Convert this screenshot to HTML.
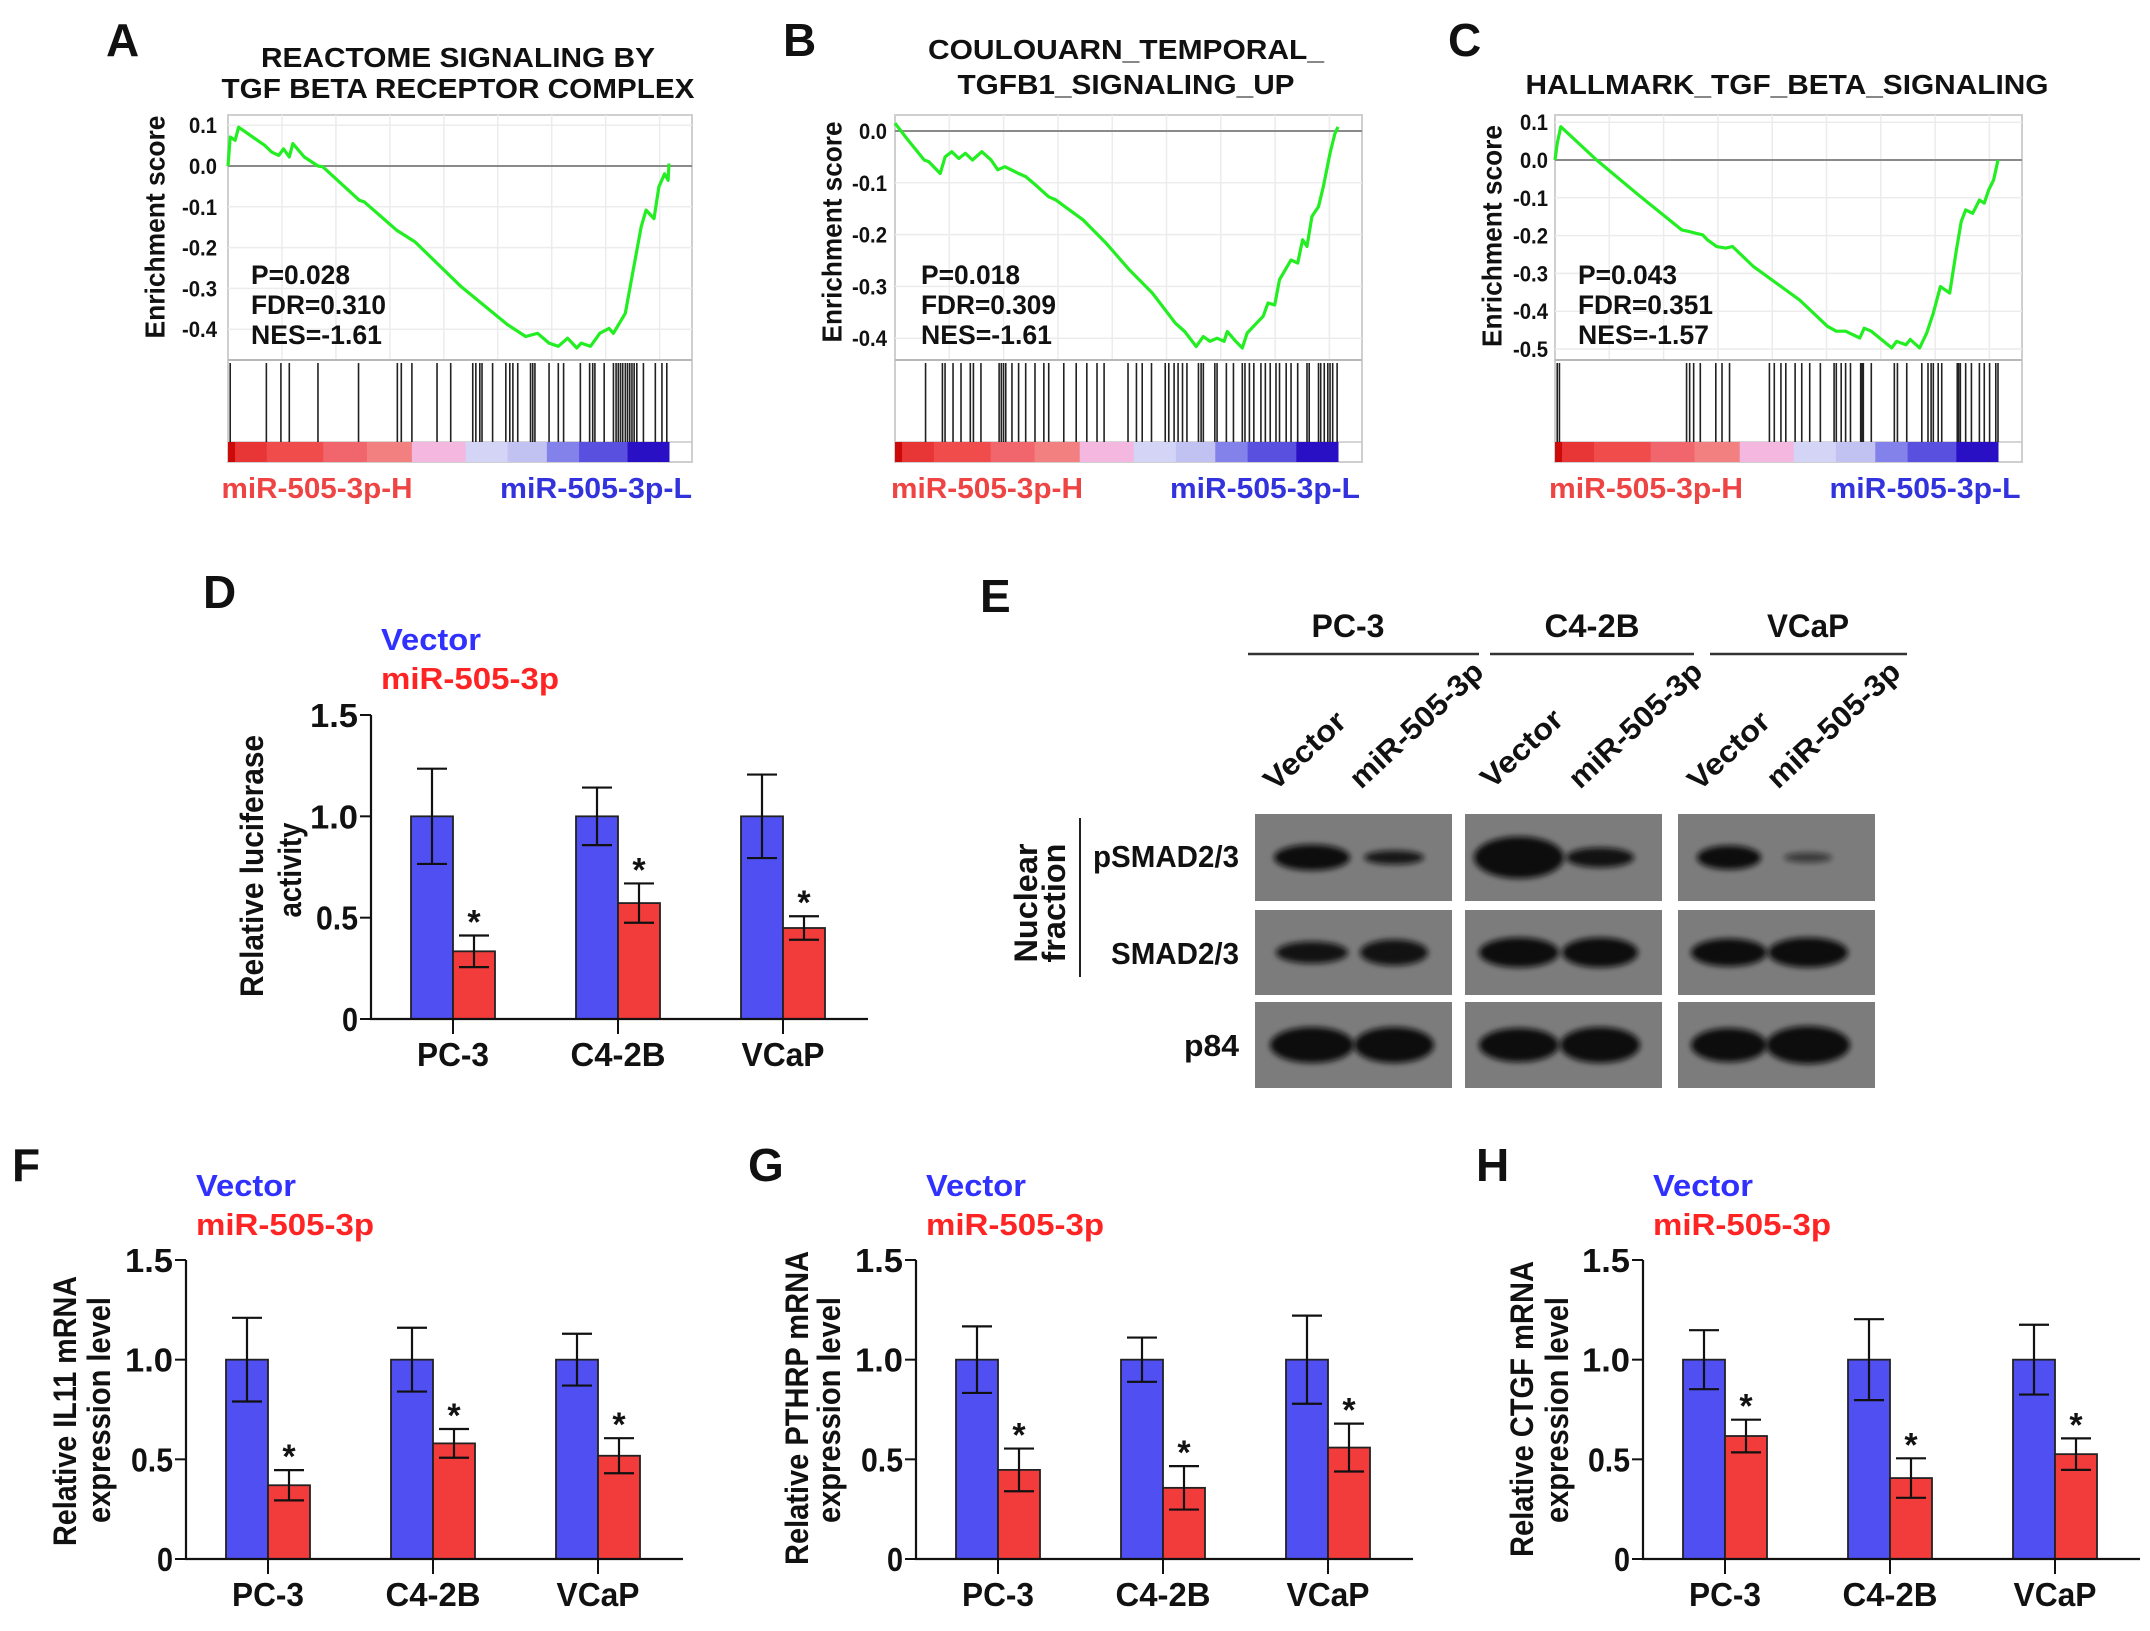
<!DOCTYPE html>
<html><head><meta charset="utf-8"><title>miR-505-3p TGF-beta figure</title>
<style>
html,body{margin:0;padding:0;background:#fff;}
svg{display:block;font-family:"Liberation Sans",Arial,sans-serif;font-weight:bold;}
</style></head>
<body>
<svg id="fig" xmlns="http://www.w3.org/2000/svg" width="2150" height="1631" viewBox="0 0 2150 1631">
<defs>
<filter id="blur" x="-50%" y="-50%" width="200%" height="200%"><feGaussianBlur stdDeviation="3"/></filter>
</defs>
<rect x="0" y="0" width="2150" height="1631" fill="#fff"/>
</svg>
<script>
// ===== GSEA data (rank fraction, enrichment score) =====
const esA_rank=[0,.005,.016,.024,.084,.099,.115,.126,.139,.147,.173,.204,.215,.298,.309,.382,.424,.529,.634,.675,.702,.728,.749,.770,.791,.801,.822,.843,.864,.874,.901,.916,.937,.948,.966,.977,.990,.998,1.0];
const esA_score=[0,.071,.063,.095,.05,.034,.026,.042,.022,.055,.022,0,-.002,-.084,-.088,-.157,-.186,-.296,-.389,-.418,-.41,-.434,-.442,-.422,-.446,-.434,-.442,-.41,-.398,-.41,-.361,-.271,-.149,-.108,-.129,-.051,-.019,-.035,.006];
const hitsA=[0.5,8.7,12.0,13.9,20.4,29.6,38.4,39.3,41.7,47.4,50.5,55.5,56.2,57.1,57.6,60.0,63.0,63.9,64.6,65.7,68.6,69.1,69.6,72.8,74.9,76.1,79.9,82.0,82.7,83.2,85.3,87.4,88.0,88.5,89.0,89.5,90.1,90.6,91.1,91.6,92.1,92.7,94.2,96.9,98.4,99.5];
const ticksA=[0.1,0.0,-0.1,-0.2,-0.3,-0.4];

const esB_rank=[0,.029,.066,.076,.102,.113,.128,.144,.159,.175,.196,.217,.232,.248,.279,.295,.321,.347,.363,.425,.477,.529,.581,.633,.654,.680,.696,.711,.727,.743,.750,.769,.784,.795,.816,.831,.842,.857,.868,.894,.909,.920,.930,.941,.956,.967,.982,.993,1.0];
const esB_score=[.015,-.017,-.056,-.059,-.082,-.050,-.040,-.053,-.043,-.056,-.040,-.056,-.075,-.069,-.082,-.088,-.107,-.127,-.133,-.172,-.217,-.268,-.313,-.371,-.387,-.416,-.397,-.406,-.400,-.406,-.387,-.406,-.419,-.390,-.371,-.358,-.332,-.336,-.287,-.249,-.255,-.210,-.223,-.165,-.146,-.107,-.043,-.005,.008];
const hitsB=[6.9,10.7,11.3,13.1,14.9,17.0,17.7,19.4,23.5,24.0,24.5,25.0,26.4,27.9,29.5,31.6,33.6,34.7,38.1,40.9,43.3,45.6,47.2,52.6,54.5,55.8,57.9,61.0,61.8,63.0,63.9,64.9,65.9,68.5,69.1,69.6,72.2,72.7,74.8,76.4,78.4,79.0,80.0,81.0,82.6,83.6,84.7,86.0,86.8,88.3,89.4,90.9,93.0,93.5,95.6,96.1,96.9,97.7,98.2,98.8,99.8];
const ticksB=[0.0,-0.1,-0.2,-0.3,-0.4];

const esC_rank=[0,.005,.013,.094,.188,.286,.302,.318,.333,.344,.365,.385,.401,.448,.552,.615,.635,.656,.688,.698,.714,.760,.771,.792,.802,.823,.839,.854,.870,.891,.906,.917,.927,.943,.958,.969,.979,.990,1.0];
const esC_score=[0,.044,.088,0,-.092,-.185,-.189,-.194,-.198,-.211,-.229,-.233,-.229,-.282,-.370,-.440,-.453,-.453,-.471,-.445,-.453,-.497,-.480,-.489,-.475,-.497,-.458,-.405,-.335,-.352,-.238,-.163,-.132,-.141,-.106,-.114,-.079,-.053,0];
const hitsC=[0.5,1.0,29.7,30.4,31.3,32.8,36.3,37.7,39.4,48.4,49.5,51.0,52.1,54.2,55.7,57.5,59.9,63.0,63.5,64.6,65.6,66.7,69.0,69.3,69.6,71.4,76.6,77.3,79.4,82.8,84.2,84.9,85.4,86.5,87.3,90.8,91.1,91.5,92.7,94.0,95.8,96.9,98.1,99.5,100];
const ticksC=[0.1,0.0,-0.1,-0.2,-0.3,-0.4,-0.5];

// ===== bar chart data =====
const cellLines=['PC-3','C4-2B','VCaP'];
const barTicks=[0,0.5,1.0,1.5];
const barTickLabels=['0','0.5','1.0','1.5'];
const lucVector=[1.0,1.0,1.0];
const lucVectorErr=[0.235,0.142,0.206];
const lucMir=[0.334,0.572,0.449];
const lucMirErr=[0.078,0.097,0.058];
const il11Vector=[1.0,1.0,1.0];
const il11VectorErr=[0.21,0.16,0.13];
const il11Mir=[0.37,0.58,0.518];
const il11MirErr=[0.076,0.072,0.088];
const pthrpVector=[1.0,1.0,1.0];
const pthrpVectorErr=[0.167,0.111,0.221];
const pthrpMir=[0.447,0.357,0.559];
const pthrpMirErr=[0.107,0.109,0.12];
const ctgfVector=[1.0,1.0,1.0];
const ctgfVectorErr=[0.148,0.203,0.175];
const ctgfMir=[0.617,0.406,0.526];
const ctgfMirErr=[0.082,0.099,0.079];

const NS='http://www.w3.org/2000/svg';
const svg=document.getElementById('fig');
function mk(tag,attrs,name,parent){
  const el=document.createElementNS(NS,tag);
  for(const k in attrs) el.setAttribute(k,attrs[k]);
  
  
  (parent||svg).appendChild(el);
  return el;
}
function txt(x,y,s,size,name,o){
  o=o||{};
  const a={x:x,y:y,'font-size':size,fill:o.fill||'#111','text-anchor':o.anchor||'start'};
  if(o.len){a.textLength=o.len;a.lengthAdjust='spacingAndGlyphs';}
  if(o.transform)a.transform=o.transform;
  if(o.baseline)a['dominant-baseline']=o.baseline;
  const t=mk('text',a,name,o.parent);
  t.textContent=s;
  return t;
}

// ===== GSEA panels =====
const cbColors=['#cc0a0a','#e83636','#f04c4c','#f0666c','#f28080','#f4b8e0','#d4d4f6','#c2c2f2','#8282ea','#5a50e0','#2a10c4'];
const cbStops=[0,1.6,8.8,21.6,31.5,41.7,53.9,63.4,72.3,79.6,90.6,100];
function gsea(p){
  const g=mk('g',{},p.id);
  const L=p.left,R=p.right,E=p.end,top=115,esB=360,cbT=442,bot=462;
  const xs=f=>L+f*(E-L);
  const ys=v=>p.zero-v*10*p.per;
  mk('rect',{x:L,y:top,width:R-L,height:bot-top,fill:'#fff',stroke:'#cfcfcf','stroke-width':2},'plot-frame',g);
  for(let i=1;i<9;i++){
    mk('line',{x1:L+i*(R-L)/8.6,x2:L+i*(R-L)/8.6,y1:top,y2:esB,stroke:'#ececec','stroke-width':1.5},'grid-line',g);
  }
  p.ticks.forEach(t=>{
    mk('line',{x1:L,x2:R,y1:ys(t),y2:ys(t),stroke:t===0?'#8a8a8a':'#ececec','stroke-width':t===0?2:1.5},'h-grid-line',g);
    txt(p.tickRight,ys(t)+8,t.toFixed(1),22,'y-tick-label',{anchor:'end',len:t<0?35:28,parent:g});
  });
  mk('line',{x1:L,x2:R,y1:esB,y2:esB,stroke:'#b8b8b8','stroke-width':2},'es-divider',g);
  mk('line',{x1:L,x2:R,y1:cbT,y2:cbT,stroke:'#c8c8c8','stroke-width':1.5},'hits-divider',g);
  p.hits.forEach(h=>{
    mk('line',{x1:xs(h/100),x2:xs(h/100),y1:esB+3,y2:cbT,stroke:'#222','stroke-width':1.6},'hit-line',g);
  });
  for(let i=0;i<cbColors.length;i++){
    mk('rect',{x:xs(cbStops[i]/100),y:cbT,width:xs(cbStops[i+1]/100)-xs(cbStops[i]/100)+0.5,height:bot-cbT,fill:cbColors[i]},'colorbar-segment',g);
  }
  let d='';
  p.rank.forEach((r,i)=>{d+=(i?'L':'M')+xs(r).toFixed(1)+','+ys(p.score[i]).toFixed(1);});
  mk('path',{d:d,fill:'none',stroke:'#22ee22','stroke-width':3.2,'stroke-linejoin':'round'},'enrichment-curve',g);
  txt(p.ytx,p.yty,'Enrichment score',28,'y-axis-title',{anchor:'middle',len:p.ylen,transform:'rotate(-90 '+p.ytx+' '+p.yty+')',baseline:'central',parent:g});
  txt(p.statX,284,p.stats[0],27,'p-value',{len:99,parent:g});
  txt(p.statX,314,p.stats[1],27,'fdr-value',{len:135,parent:g});
  txt(p.statX,344,p.stats[2],27,'nes-value',{len:131,parent:g});
  txt(p.hx,498,'miR-505-3p-H',29,'high-label',{fill:'#ee4444',anchor:'middle',len:p.hw,parent:g});
  txt(p.lx,498,'miR-505-3p-L',29,'low-label',{fill:'#3333dd',anchor:'middle',len:p.lw,parent:g});
  p.titles.forEach((t,i)=>txt(p.tx,p.tys[i],t,28,'panel-title',{anchor:'middle',len:p.tws[i],parent:g}));
  txt(p.letterX,56,p.letter,46,'panel-label',{parent:g});
}
gsea({id:'panel-a',left:228,right:692,end:669,zero:166,per:40.8,ticks:ticksA,tickRight:217,hits:hitsA,rank:esA_rank,score:esA_score,
  ytx:155,yty:227,ylen:223,statX:251,stats:['P=0.028','FDR=0.310','NES=-1.61'],hx:317,hw:191,lx:596,lw:192,
  titles:['REACTOME SIGNALING BY','TGF BETA RECEPTOR COMPLEX'],tx:458,tys:[67,98],tws:[394,473],letter:'A',letterX:106});
gsea({id:'panel-b',left:895,right:1362,end:1338,zero:131,per:51.8,ticks:ticksB,tickRight:887,hits:hitsB,rank:esB_rank,score:esB_score,
  ytx:832,yty:232,ylen:221,statX:921,stats:['P=0.018','FDR=0.309','NES=-1.61'],hx:987,hw:192,lx:1265,lw:190,
  titles:['COULOUARN_TEMPORAL_','TGFB1_SIGNALING_UP'],tx:1126,tys:[59,94],tws:[396,337],letter:'B',letterX:783});
gsea({id:'panel-c',left:1555,right:2022,end:1998,zero:160,per:37.8,ticks:ticksC,tickRight:1548,hits:hitsC,rank:esC_rank,score:esC_score,
  ytx:1492,yty:236,ylen:222,statX:1578,stats:['P=0.043','FDR=0.351','NES=-1.57'],hx:1646,hw:194,lx:1925,lw:191,
  titles:['HALLMARK_TGF_BETA_SIGNALING'],tx:1787,tys:[94],tws:[523],letter:'C',letterX:1448});

// ===== bar charts =====
const catLen=[72,95,83];
const tickLen=[16,42,48,48];
function barChart(p){
  const g=mk('g',{},p.id);
  const ax=p.axisX,y0=p.y0,yT=p.yTop;
  const ys=v=>y0-v/1.5*(y0-yT);
  const cx=i=>ax+82+i*165;
  barTicks.forEach((t,i)=>{
    mk('line',{x1:ax-11,x2:ax,y1:ys(t),y2:ys(t),stroke:'#111','stroke-width':2},'y-tick',g);
    txt(ax-13,ys(t)+12,barTickLabels[i],33,'y-tick-label',{anchor:'end',len:tickLen[i],parent:g});
  });
  const series=[[p.vec,p.vecErr,'#4f4ff2','vector'],[p.mir,p.mirErr,'#f23c3c','mir-505-3p']];
  cellLines.forEach((c,i)=>{
    series.forEach((s,j)=>{
      const x=cx(i)-42+j*42, v=s[0][i], e=s[1][i];
      mk('rect',{x:x,y:ys(v),width:42,height:y0-ys(v),fill:s[2],stroke:'#222','stroke-width':1.8},'bar-'+s[3]+'-'+c.toLowerCase(),g);
      const m=x+21;
      mk('line',{x1:m,x2:m,y1:ys(v+e),y2:ys(v-e),stroke:'#111','stroke-width':2.2},'error-bar',g);
      mk('line',{x1:m-15,x2:m+15,y1:ys(v+e),y2:ys(v+e),stroke:'#111','stroke-width':2.2},'error-cap',g);
      mk('line',{x1:m-15,x2:m+15,y1:ys(v-e),y2:ys(v-e),stroke:'#111','stroke-width':2.2},'error-cap',g);
      if(j===1) txt(m,ys(v+e)-2,'*',34,'significance-star',{anchor:'middle',parent:g});
    });
    mk('line',{x1:cx(i),x2:cx(i),y1:y0,y2:y0+15,stroke:'#111','stroke-width':2},'x-tick',g);
    txt(cx(i),y0+47,c,33,'x-tick-label',{anchor:'middle',len:catLen[i],parent:g});
  });
  mk('line',{x1:ax,x2:ax,y1:yT,y2:y0,stroke:'#111','stroke-width':2.2},'y-axis',g);
  mk('line',{x1:ax-1,x2:ax+497,y1:y0,y2:y0,stroke:'#111','stroke-width':2.2},'x-axis',g);
  txt(ax+10,p.legY,'Vector',31,'legend-vector',{fill:'#3030ff',len:100,parent:g});
  txt(ax+10,p.legY+39,'miR-505-3p',31,'legend-mir',{fill:'#ff2424',len:178,parent:g});
  txt(p.letterX,p.letterY,p.letter,46,'panel-label',{parent:g});
  p.yt.forEach(t=>txt(t[0],t[1],t[2],32,'y-axis-title',{anchor:'middle',len:t[3],baseline:'central',transform:'rotate(-90 '+t[0]+' '+t[1]+')',parent:g}));
}
barChart({id:'panel-d',axisX:371,y0:1019,yTop:715,vec:lucVector,vecErr:lucVectorErr,mir:lucMir,mirErr:lucMirErr,legY:650,
  letter:'D',letterX:203,letterY:608,yt:[[252,866,'Relative luciferase',262],[290,870,'activity',95]]});
barChart({id:'panel-f',axisX:186,y0:1559,yTop:1260,vec:il11Vector,vecErr:il11VectorErr,mir:il11Mir,mirErr:il11MirErr,legY:1196,
  letter:'F',letterX:12,letterY:1181,yt:[[65,1411,'Relative IL11 mRNA',270],[99,1410,'expression level',226]]});
barChart({id:'panel-g',axisX:916,y0:1559,yTop:1260,vec:pthrpVector,vecErr:pthrpVectorErr,mir:pthrpMir,mirErr:pthrpMirErr,legY:1196,
  letter:'G',letterX:748,letterY:1181,yt:[[797,1408,'Relative PTHRP mRNA',314],[829,1410,'expression level',226]]});
barChart({id:'panel-h',axisX:1643,y0:1559,yTop:1260,vec:ctgfVector,vecErr:ctgfVectorErr,mir:ctgfMir,mirErr:ctgfMirErr,legY:1196,
  letter:'H',letterX:1476,letterY:1181,yt:[[1522,1409,'Relative CTGF mRNA',296],[1557,1410,'expression level',226]]});

// ===== Western blot (panel E) =====
const wb=mk('g',{},'panel-e');
txt(980,612,'E',46,'panel-label',{parent:wb});
const groups=[['PC-3',1348,1248,1479,73],['C4-2B',1592,1490,1694,95],['VCaP',1808,1710,1907,82]];
groups.forEach(gp=>{
  txt(gp[1],637,gp[0],32,'cell-line-header',{anchor:'middle',len:gp[4],parent:wb});
  mk('line',{x1:gp[2],x2:gp[3],y1:654,y2:654,stroke:'#333','stroke-width':2.5},'group-line',wb);
});
const laneAnchors=[[1275,792,'Vector',100],[1361,790,'miR-505-3p',170],[1492,790,'Vector',100],[1580,790,'miR-505-3p',170],[1699,792,'Vector',100],[1778,790,'miR-505-3p',170]];
laneAnchors.forEach(l=>txt(l[0],l[1],l[2],30,'lane-label',{len:l[3],transform:'rotate(-43 '+l[0]+' '+l[1]+')',parent:wb}));
const blotX=[1255,1465,1678], rowY=[[814,901],[910,995],[1002,1088]];
const laneX=[[1312,1394],[1519,1600],[1729,1808]];
const bandRx=[[[38,13],[30,7],[45,21],[34,10],[32,12],[24,5]],[[36,11],[34,13],[40,15],[38,15],[38,14],[40,15]],[[42,18],[40,18],[40,17],[40,18],[38,17],[42,19]]];
const bandOp=[[1,0.9,1,0.95,1,0.6],[0.95,0.95,1,1,1,1],[1,1,1,1,1,1]];
rowY.forEach((r,ri)=>{
  blotX.forEach((bx,pi)=>{
    mk('rect',{x:bx,y:r[0],width:197,height:r[1]-r[0],fill:'#7c7c7c'},'blot-panel',wb);
    for(let li=0;li<2;li++){
      const k=pi*2+li;
      mk('ellipse',{cx:laneX[pi][li],cy:(r[0]+r[1])/2,rx:bandRx[ri][k][0],ry:bandRx[ri][k][1],fill:'#0c0c0c',opacity:bandOp[ri][k],filter:'url(#blur)'},'protein-band',wb);
    }
  });
});
txt(1239,867,'pSMAD2/3',31,'row-label-psmad',{anchor:'end',len:146,parent:wb});
txt(1239,964,'SMAD2/3',31,'row-label-smad',{anchor:'end',len:128,parent:wb});
txt(1239,1056,'p84',31,'row-label-p84',{anchor:'end',len:55,parent:wb});
txt(1026,903,'Nuclear',32,'nuclear-label',{anchor:'middle',len:119,baseline:'central',transform:'rotate(-90 1026 903)',parent:wb});
txt(1054,903,'fraction',32,'fraction-label',{anchor:'middle',len:119,baseline:'central',transform:'rotate(-90 1054 903)',parent:wb});
mk('line',{x1:1080,x2:1080,y1:818,y2:977,stroke:'#222','stroke-width':2},'fraction-bracket',wb);
</script>
</body></html>
